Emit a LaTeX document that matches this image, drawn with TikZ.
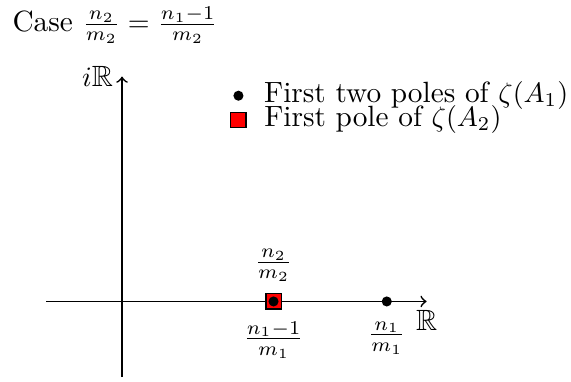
\documentclass[tikz,border=0pt]{standalone}
\usepackage{amsmath,amssymb}
\usetikzlibrary{positioning}
\tikzset{
  axis/.style    = {->, semithick},
  pole/.style    = {circle, fill=black, inner sep=0pt, minimum size=3.6pt},
  polebox/.style = {rectangle, draw=black, fill=red, inner sep=0pt, minimum size=5.4pt},
  lbl/.style     = {inner sep=3pt},
  legtxt/.style  = {inner sep=0pt},
  every node/.style = {font=\fontsize{10.45pt}{12.5pt}\selectfont},
}
\begin{document}
\begin{tikzpicture}
  \useasboundingbox (-1.53,-1.0) rectangle (5.63,3.78);
  % axes
  \coordinate (xl) at (-0.95,0);
  \coordinate (xr) at (3.82,0);
  \coordinate (yb) at (0,-0.95);
  \coordinate (yt) at (0,2.82);
  \draw[axis] (xl) -- (xr);
  \draw[axis] (yb) -- (yt);
  \node[lbl, below=0pt of xr] (re) {$\mathbb{R}$};
  \node[lbl, left=0pt of yt] (im) {$i\mathbb{R}$};
  % title
  \node[anchor=base west, inner sep=0pt] (title) at (-1.38,3.39) {Case $\frac{n_2}{m_2} = \frac{n_1-1}{m_2}$};
  % poles
  \node[polebox] (p2) at (1.9,0) {};
  \node[pole] (p1a) at (p2) {};
  \node[pole] (p1b) at (3.32,0) {};
  \node[lbl, above=1pt of p2] (p2lbl) {$\frac{n_2}{m_2}$};
  \node[lbl, below=1pt of p2] (p1albl) {$\frac{n_1-1}{m_1}$};
  \node[lbl, below=2pt of p1b] (p1blbl) {$\frac{n_1}{m_1}$};
  % legend
  \node[pole] (legdot) at (1.46,2.58) {};
  \node[polebox] (legbox) at (1.46,2.28) {};
  \node[legtxt, right=2.45mm of legdot] (legdottxt) {First two poles of $\zeta(A_1)$};
  \node[legtxt, right=2.15mm of legbox] (legboxtxt) {First pole of $\zeta(A_2)$};
\end{tikzpicture}
\end{document}
